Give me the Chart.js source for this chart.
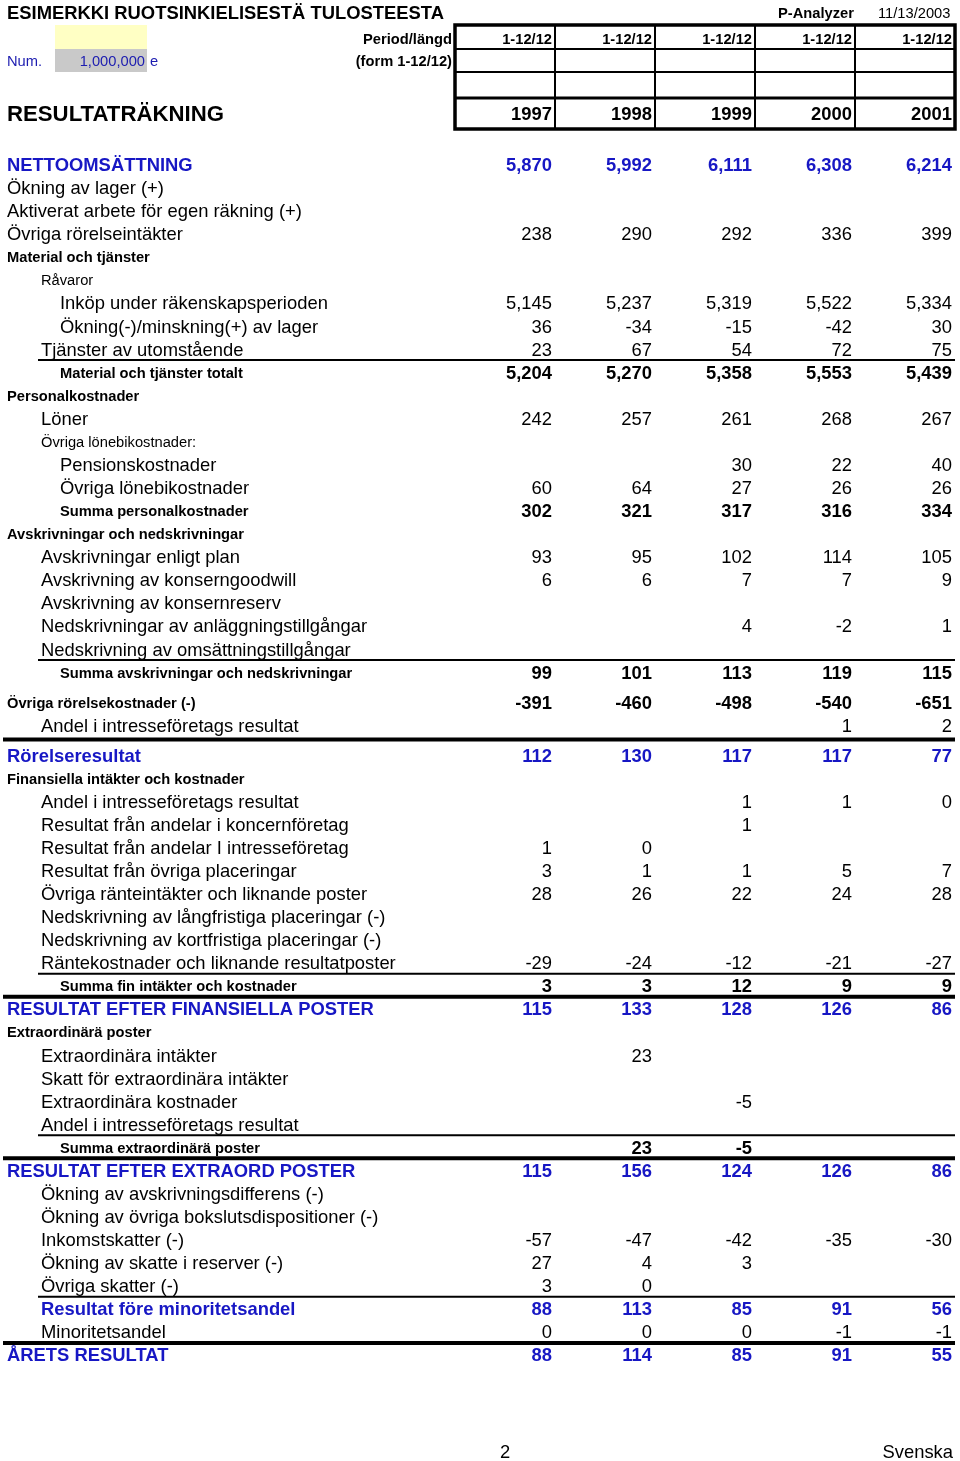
<!DOCTYPE html>
<html><head><meta charset="utf-8">
<script src="https://cdn.jsdelivr.net/npm/chart.js@4/dist/chart.umd.min.js"></script>
<style>html,body{margin:0;padding:0;background:#fff;overflow:hidden}canvas{display:block}</style>
</head><body>
<canvas id="c" width="960" height="1461" style="width:960px;height:1461px"></canvas>
<script>
// ---------- DATA ----------
const pageTitle = "ESIMERKKI RUOTSINKIELISESTÄ TULOSTEESTA";
const program = "P-Analyzer";
const printDate = "11/13/2003";
const reportTitle = "RESULTATRÄKNING";
const years = ["1997", "1998", "1999", "2000", "2001"];
const periods = ["1-12/12", "1-12/12", "1-12/12", "1-12/12", "1-12/12"];
const periodLabel = "Period/längd";
const formLabel = "(form 1-12/12)";
const numLabel = "Num.";
const numValue = "1,000,000";
const numUnit = "e";
const pageNo = "2";
const language = "Svenska";

const rowLabels = [
  "NETTOOMSÄTTNING",
  "Ökning av lager (+)",
  "Aktiverat arbete för egen räkning (+)",
  "Övriga rörelseintäkter",
  "Material och tjänster",
  "Råvaror",
  "Inköp under räkenskapsperioden",
  "Ökning(-)/minskning(+) av lager",
  "Tjänster av utomstående",
  "Material och tjänster totalt",
  "Personalkostnader",
  "Löner",
  "Övriga lönebikostnader:",
  "Pensionskostnader",
  "Övriga lönebikostnader",
  "Summa personalkostnader",
  "Avskrivningar och nedskrivningar",
  "Avskrivningar enligt plan",
  "Avskrivning av konserngoodwill",
  "Avskrivning av konsernreserv",
  "Nedskrivningar av anläggningstillgångar",
  "Nedskrivning av omsättningstillgångar",
  "Summa avskrivningar och nedskrivningar",
  "Övriga rörelsekostnader (-)",
  "Andel i intresseföretags resultat",
  "Rörelseresultat",
  "Finansiella intäkter och kostnader",
  "Andel i intresseföretags resultat",
  "Resultat från andelar i koncernföretag",
  "Resultat från andelar I intresseföretag",
  "Resultat från övriga placeringar",
  "Övriga ränteintäkter och liknande poster",
  "Nedskrivning av långfristiga placeringar (-)",
  "Nedskrivning av kortfristiga placeringar (-)",
  "Räntekostnader och liknande resultatposter",
  "Summa fin intäkter och kostnader",
  "RESULTAT EFTER FINANSIELLA POSTER",
  "Extraordinärä poster",
  "Extraordinära intäkter",
  "Skatt för extraordinära intäkter",
  "Extraordinära kostnader",
  "Andel i intresseföretags resultat",
  "Summa extraordinärä poster",
  "RESULTAT EFTER EXTRAORD POSTER",
  "Ökning av avskrivningsdifferens (-)",
  "Ökning av övriga bokslutsdispositioner (-)",
  "Inkomstskatter (-)",
  "Ökning av skatte i reserver (-)",
  "Övriga skatter (-)",
  "Resultat före minoritetsandel",
  "Minoritetsandel",
  "ÅRETS RESULTAT"
];

const _ = null;
const v1997 = [5870,_,_,238,_,_,5145,36,23,5204,_,242,_,_,60,302,_,93,6,_,_,_,99,-391,_,112,_,_,_,1,3,28,_,_,-29,3,115,_,_,_,_,_,_,115,_,_,-57,27,3,88,0,88];
const v1998 = [5992,_,_,290,_,_,5237,-34,67,5270,_,257,_,_,64,321,_,95,6,_,_,_,101,-460,_,130,_,_,_,0,1,26,_,_,-24,3,133,_,23,_,_,_,23,156,_,_,-47,4,0,113,0,114];
const v1999 = [6111,_,_,292,_,_,5319,-15,54,5358,_,261,_,30,27,317,_,102,7,_,4,_,113,-498,_,117,_,1,1,_,1,22,_,_,-12,12,128,_,_,_,-5,_,-5,124,_,_,-42,3,_,85,0,85];
const v2000 = [6308,_,_,336,_,_,5522,-42,72,5553,_,268,_,22,26,316,_,114,7,_,-2,_,119,-540,1,117,_,1,_,_,5,24,_,_,-21,9,126,_,_,_,_,_,_,126,_,_,-35,_,_,91,-1,91];
const v2001 = [6214,_,_,399,_,_,5334,30,75,5439,_,267,_,40,26,334,_,105,9,_,1,_,115,-651,2,77,_,0,_,_,7,28,_,_,-27,9,86,_,_,_,_,_,_,86,_,_,-30,_,_,56,-1,55];
const seriesValues = [v1997, v1998, v1999, v2000, v2001];

// ---------- LAYOUT / STYLE (kept apart from data) ----------
// K0 key blue row, K1 blue row indented, H section heading, S small sub-heading,
// T small bold total, A0/A1/A2 plain item at indent 0/1/2
const rowKinds = ["K0","A0","A0","A0","H","S","A2","A2","A1","T","H","A1","S","A2","A2","T","H","A1","A1","A1","A1","A1","T","H","A1","K0","H","A1","A1","A1","A1","A1","A1","A1","A1","T","K0","H","A1","A1","A1","A1","T","K0","A1","A1","A1","A1","A1","K1","A1","K0"];
const extraGapBefore = {23: 0.3, 25: 0.3};
const thinLineAfter = [8, 21, 34, 41, 48];
const thickLineAfter = [24, 35, 42, 50];

const rowPos = [];
(function(){ let acc = 0; for (let i = 0; i < rowLabels.length; i++) { acc += (extraGapBefore[i] || 0); rowPos.push(i + acc); } })();

const L = {
  unitY: 23.07, originY: 164, unitX: 100, originX: 455,
  indent: [-4.48, -4.14, -3.95],
  hdr: { title: -6.589, period: -5.462, form: -4.508, years: -2.211,
         edges: [-6.025, -4.985, -3.988, -2.861, -1.517] },
  boxX: [-4.0, -3.08], unitTextX: -3.05, progX: 3.23, dateX: 4.23,
  footer: 55.787, pageX: 0.45
};
const FONT = '"Liberation Sans", Arial, Helvetica, sans-serif';
const BIG = 18.4, SMALL = 14.7, BLUE = '#1717c4', BLACK = '#000';
const TEXT_DY = 2;

const fmt = n => n.toLocaleString('en-US');

const tablePlugin = {
  id: 'table',
  afterDatasetsDraw(chart) {
    const ctx = chart.ctx, xs = chart.scales.x, ys = chart.scales.y;
    const X = u => xs.getPixelForValue(u), Y = v => ys.getPixelForValue(v);
    const txt = (s, x, y, size, bold, color, align) => {
      ctx.font = (bold ? 'bold ' : '') + size + 'px ' + FONT;
      ctx.fillStyle = color; ctx.textAlign = align || 'left'; ctx.textBaseline = 'middle';
      ctx.fillText(s, x, y + TEXT_DY);
    };
    const hline = (x0, x1, y, w) => {
      ctx.beginPath(); ctx.lineWidth = w; ctx.strokeStyle = '#000';
      ctx.moveTo(x0, y); ctx.lineTo(x1, y); ctx.stroke();
    };
    const vline = (x, y0, y1, w) => {
      ctx.beginPath(); ctx.lineWidth = w; ctx.strokeStyle = '#000';
      ctx.moveTo(x, y0); ctx.lineTo(x, y1); ctx.stroke();
    };
    ctx.save();
    const H = L.hdr;
    // title line
    txt(pageTitle, X(L.indent[0]), Y(H.title), BIG, true, BLACK);
    txt(program, X(L.progX), Y(H.title), SMALL, true, BLACK);
    txt(printDate, X(L.dateX), Y(H.title), SMALL, false, BLACK);
    // yellow / gray input cells
    ctx.fillStyle = '#ffffc4';
    ctx.fillRect(X(L.boxX[0]), Y(H.edges[0]), X(L.boxX[1]) - X(L.boxX[0]), Y(H.edges[1]) - Y(H.edges[0]));
    ctx.fillStyle = '#c9c9c9';
    ctx.fillRect(X(L.boxX[0]), Y(H.edges[1]), X(L.boxX[1]) - X(L.boxX[0]), Y(H.edges[2]) - Y(H.edges[1]));
    txt(numLabel, X(L.indent[0]), Y(H.form), SMALL, false, '#1c1cb0');
    txt(numValue, X(L.boxX[1]) - 2, Y(H.form), SMALL, false, '#1c1cb0', 'right');
    txt(numUnit, X(L.unitTextX), Y(H.form), SMALL, false, '#1c1cb0');
    txt(periodLabel, X(0) - 3, Y(H.period), SMALL, true, BLACK, 'right');
    txt(formLabel, X(0) - 3, Y(H.form), SMALL, true, BLACK, 'right');
    txt(reportTitle, X(L.indent[0]), Y(H.years), 22.2, true, BLACK);
    // header grid
    for (let i = 1; i < H.edges.length - 1; i++) hline(X(0), X(5), Y(H.edges[i]), i === 3 ? 3 : 2);
    for (let c = 1; c < years.length; c++) vline(X(c), Y(H.edges[0]), Y(H.edges[4]), 2);
    ctx.lineWidth = 3.5; ctx.strokeStyle = '#000';
    ctx.strokeRect(X(0), Y(H.edges[0]), X(5) - X(0), Y(H.edges[4]) - Y(H.edges[0]));
    periods.forEach((p, c) => txt(p, X(c + 1) - 3, Y(H.period), SMALL, true, BLACK, 'right'));
    years.forEach((y, c) => txt(y, X(c + 1) - 3, Y(H.years), BIG, true, BLACK, 'right'));
    // row labels
    rowLabels.forEach((lab, i) => {
      const k = rowKinds[i], y = Y(rowPos[i]);
      if (k === 'K0') txt(lab, X(L.indent[0]), y, BIG, true, BLUE);
      else if (k === 'K1') txt(lab, X(L.indent[1]), y, BIG, true, BLUE);
      else if (k === 'H') txt(lab, X(L.indent[0]), y, SMALL, true, BLACK);
      else if (k === 'S') txt(lab, X(L.indent[1]), y, SMALL, false, BLACK);
      else if (k === 'T') txt(lab, X(L.indent[2]), y, SMALL, true, BLACK);
      else txt(lab, X(L.indent[+k[1]]), y, BIG, false, BLACK);
    });
    // rules
    thinLineAfter.forEach(r => hline(X(L.indent[1]) - 3, X(5), Y((rowPos[r] + rowPos[r + 1]) / 2), 2));
    thickLineAfter.forEach(r => hline(X(L.indent[0]) - 4, X(5), Y((rowPos[r] + rowPos[r + 1]) / 2), 4));
    // values, placed at the dataset's own point elements
    chart.data.datasets.forEach((ds, d) => {
      const meta = chart.getDatasetMeta(d);
      meta.data.forEach((el, j) => {
        const pt = ds.data[j];
        const i = pt.row, k = rowKinds[i];
        const blue = k === 'K0' || k === 'K1';
        const bold = blue || k === 'T' || k === 'H';
        txt(fmt(pt.value), el.x - 3, el.y, BIG, bold, blue ? BLUE : BLACK, 'right');
      });
    });
    // footer
    txt(pageNo, X(L.pageX), Y(L.footer), BIG, false, BLACK);
    txt(language, X(5) - 2, Y(L.footer), BIG, false, BLACK, 'right');
    ctx.restore();
  }
};

const datasets = seriesValues.map((vals, d) => ({
  label: years[d],
  data: vals.map((v, i) => ({ x: d + 1, y: rowPos[i], row: i, value: v })).filter(p => p.value != null),
  pointRadius: 0, pointHoverRadius: 0, showLine: false
}));

const W = 960, Hh = 1461;
new Chart(document.getElementById('c'), {
  type: 'scatter',
  data: { datasets },
  options: {
    responsive: false, animation: false, devicePixelRatio: 1,
    layout: { padding: 0 },
    events: [],
    plugins: { legend: { display: false }, tooltip: { enabled: false } },
    scales: {
      x: { type: 'linear', display: false, min: -L.originX / L.unitX, max: (W - L.originX) / L.unitX },
      y: { type: 'linear', display: false, reverse: true, min: -L.originY / L.unitY, max: (Hh - L.originY) / L.unitY }
    }
  },
  plugins: [tablePlugin]
});
</script>
</body></html>
